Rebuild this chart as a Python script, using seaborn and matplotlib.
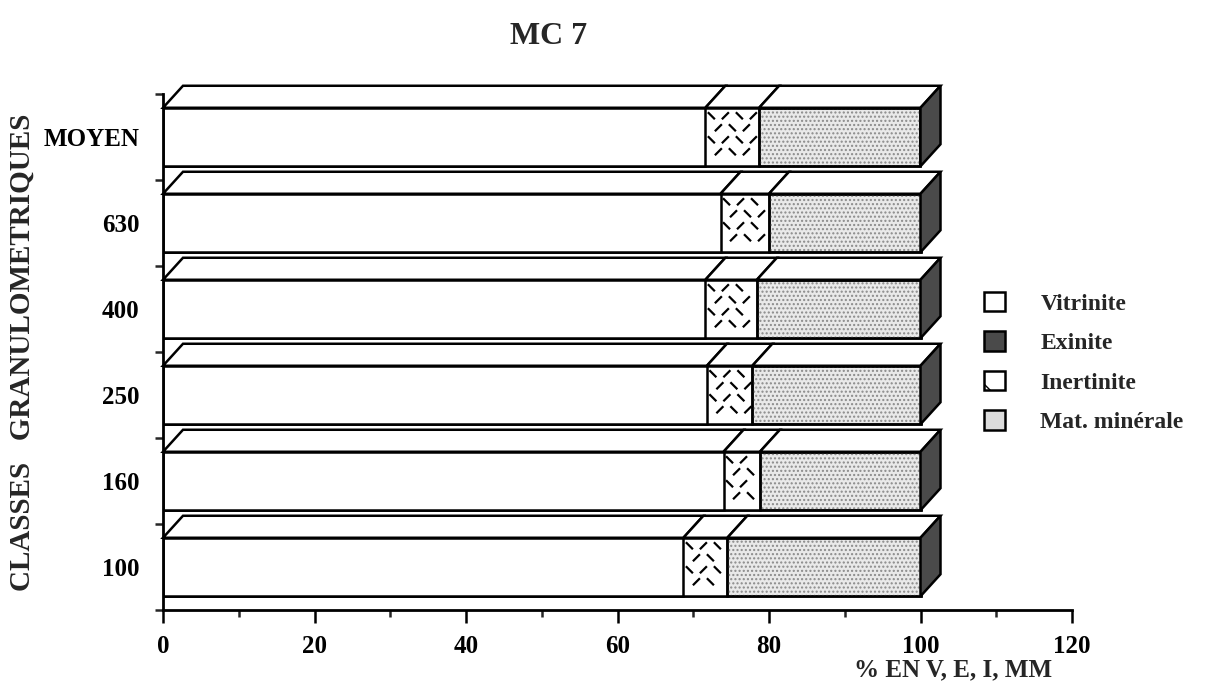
import numpy as np
import pandas as pd
import matplotlib
matplotlib.use("Agg")
import matplotlib.pyplot as plt
import seaborn as sns
from matplotlib.patches import Polygon, Rectangle, Patch
from matplotlib.collections import LineCollection

# ---------------- data ----------------
categories = ["MOYEN", "630", "400", "250", "160", "100"]
vitrinite = [71.6, 73.6, 71.6, 71.8, 74.0, 68.7]
exinite = [0.0, 0.0, 0.0, 0.0, 0.0, 0.0]
inertinite = [7.1, 6.4, 6.8, 6.0, 4.8, 5.8]
mat_minerale = [21.3, 20.0, 21.6, 22.2, 21.2, 25.5]
series_names = ["Vitrinite", "Exinite", "Inertinite", "Mat. minérale"]
x_major = [0, 20, 40, 60, 80, 100, 120]
x_minor = [10, 30, 50, 70, 90, 110]
title = "MC 7"
ylabel = "CLASSES   GRANULOMETRIQUES"
xlabel = "% EN V, E, I, MM"

# ---------------- style ----------------
sns.set_theme(style="ticks")
plt.rcParams["font.family"] = ["Liberation Serif", "DejaVu Serif"]
plt.rcParams["font.weight"] = "bold"
plt.rcParams["hatch.linewidth"] = 1.0

face = {"Vitrinite": "white", "Exinite": "#4a4a4a",
        "Inertinite": "white", "Mat. minérale": "#e9e9e9"}

fig = plt.figure(figsize=(12.15, 6.91), dpi=100)
W, H = 1215, 691
ax = fig.add_axes([163 / W, 1 - 610 / H, (1072 - 163) / W, (610 - 94) / H])

values = {"Vitrinite": vitrinite, "Exinite": exinite,
          "Inertinite": inertinite, "Mat. minérale": mat_minerale}
cum = np.cumsum(np.array([values[s] for s in series_names]), axis=0)
starts = np.vstack([np.zeros(len(categories)), cum[:-1]])
rows = []
for i, s in enumerate(series_names):
    for j, c in enumerate(categories):
        rows.append({"category": c, "series": s, "end": cum[i, j],
                     "start": starts[i, j]})
df = pd.DataFrame(rows)

bar_w = 0.68
for s in reversed(series_names):
    sub = df[df["series"] == s]
    if sub["end"].sub(sub["start"]).abs().sum() == 0:
        continue
    sns.barplot(data=sub, x="end", y="category", order=categories,
                orient="h", color=face[s], saturation=1, width=bar_w,
                edgecolor="black", linewidth=1.8, errorbar=None, ax=ax,
                zorder=2)

ax.set_xlim(0, 120)
ax.set_ylim(5.5, -0.5)

# pixel -> data conversion
p0 = ax.transData.transform((0, 0))
p1 = ax.transData.transform((1, 1))
px_x = abs(p1[0] - p0[0])
px_y = abs(p1[1] - p0[1])
dx = 20 / px_x
dy = 22 / px_y

lw = 1.8
for j, c in enumerate(categories):
    ytop = j - bar_w / 2
    ybot = j + bar_w / 2
    for i, s in enumerate(series_names):
        x0, x1 = starts[i, j], cum[i, j]
        if x1 - x0 <= 0:
            continue
        # top face
        ax.add_patch(Polygon([(x0, ytop), (x1, ytop), (x1 + dx, ytop - dy),
                              (x0 + dx, ytop - dy)], closed=True,
                             facecolor="white", edgecolor="black",
                             linewidth=lw, clip_on=False, zorder=4,
                             joinstyle="miter"))
        if s == "Mat. minérale":
            ax.add_patch(Rectangle((x0, ytop), x1 - x0, ybot - ytop,
                                   facecolor="none", edgecolor="#8a8a8a",
                                   hatch="....", linewidth=0, zorder=3))
            ax.add_patch(Rectangle((x0, ytop), x1 - x0, ybot - ytop,
                                   facecolor="none", edgecolor="black",
                                   linewidth=lw, zorder=3.5))
        if s == "Inertinite":
            segs = []
            sx, sy, L = 14, 12, 3.5
            xs_px = np.arange(6, (x1 - x0) * px_x - 3, sx)
            ys_px = np.arange(8, (ybot - ytop) * px_y - 4, sy)
            for r, ypx in enumerate(ys_px):
                for k, xpx in enumerate(xs_px):
                    xx = xpx + (sx / 2 if r % 2 else 0)
                    if xx > (x1 - x0) * px_x - 4:
                        continue
                    sgn = 1 if (k + r) % 2 == 0 else -1
                    cx = x0 + xx / px_x
                    cy = ytop + ypx / px_y
                    segs.append([(cx - L / px_x, cy - sgn * L / px_y),
                                 (cx + L / px_x, cy + sgn * L / px_y)])
            ax.add_collection(LineCollection(segs, colors="black",
                                             linewidths=1.6, zorder=3))
    # right side face (dark)
    xe = cum[-1, j]
    ax.add_patch(Polygon([(xe, ytop), (xe + dx, ytop - dy), (xe + dx, ybot - dy),
                          (xe, ybot)], closed=True, facecolor=face["Exinite"],
                         edgecolor="black", linewidth=lw, clip_on=False,
                         zorder=4, joinstyle="miter"))

# ---------------- axes ----------------
for sp in ["top", "right"]:
    ax.spines[sp].set_visible(False)
for sp in ["left", "bottom"]:
    ax.spines[sp].set_linewidth(2.0)
    ax.spines[sp].set_color("black")

ax.set_xticks(x_major)
ax.set_xticks(x_minor, minor=True)
ax.set_xticklabels([str(v) for v in x_major], fontsize=18, fontweight="bold")
ax.tick_params(axis="x", which="major", length=9, width=1.8, direction="out",
               pad=9, colors="black")
ax.tick_params(axis="x", which="minor", length=5, width=1.8, direction="out")
ax.set_yticks(range(len(categories)))
ax.set_yticklabels(categories, fontsize=18, fontweight="bold")
ax.set_yticks(np.arange(-0.5, len(categories), 1.0), minor=True)
ax.tick_params(axis="y", which="major", length=0, pad=17, colors="black")
ax.tick_params(axis="y", which="minor", length=6, width=1.8, direction="out")
ax.set_xlabel("")
ax.set_ylabel("")
ax.grid(False)

fig.text(549 / W, 1 - 37 / H, title, ha="center", va="center", fontsize=23,
         fontweight="bold")
fig.text(22 / W, 1 - 352 / H, ylabel, ha="center", va="center", rotation=90,
         fontsize=21, fontweight="bold")
fig.text(1052 / W, 1 - 670 / H, xlabel, ha="right", va="center", fontsize=18,
         fontweight="bold")

handles = [Patch(facecolor="white", edgecolor="black", linewidth=1.8),
           Patch(facecolor=face["Exinite"], edgecolor="black", linewidth=1.8),
           Patch(facecolor="white", edgecolor="black", linewidth=1.8, hatch="\\"),
           Patch(facecolor="#dcdcdc", edgecolor="black", linewidth=1.8)]
fig.legend(handles, series_names, loc="upper left",
           bbox_to_anchor=(972 / W, 1 - 280 / H), frameon=False,
           handlelength=0.9, handleheight=0.9,
           handletextpad=1.5, labelspacing=0.7, borderpad=0,
           prop={"family": ["Liberation Serif"], "weight": "bold", "size": 17})

fig.savefig("out.png", dpi=100)
